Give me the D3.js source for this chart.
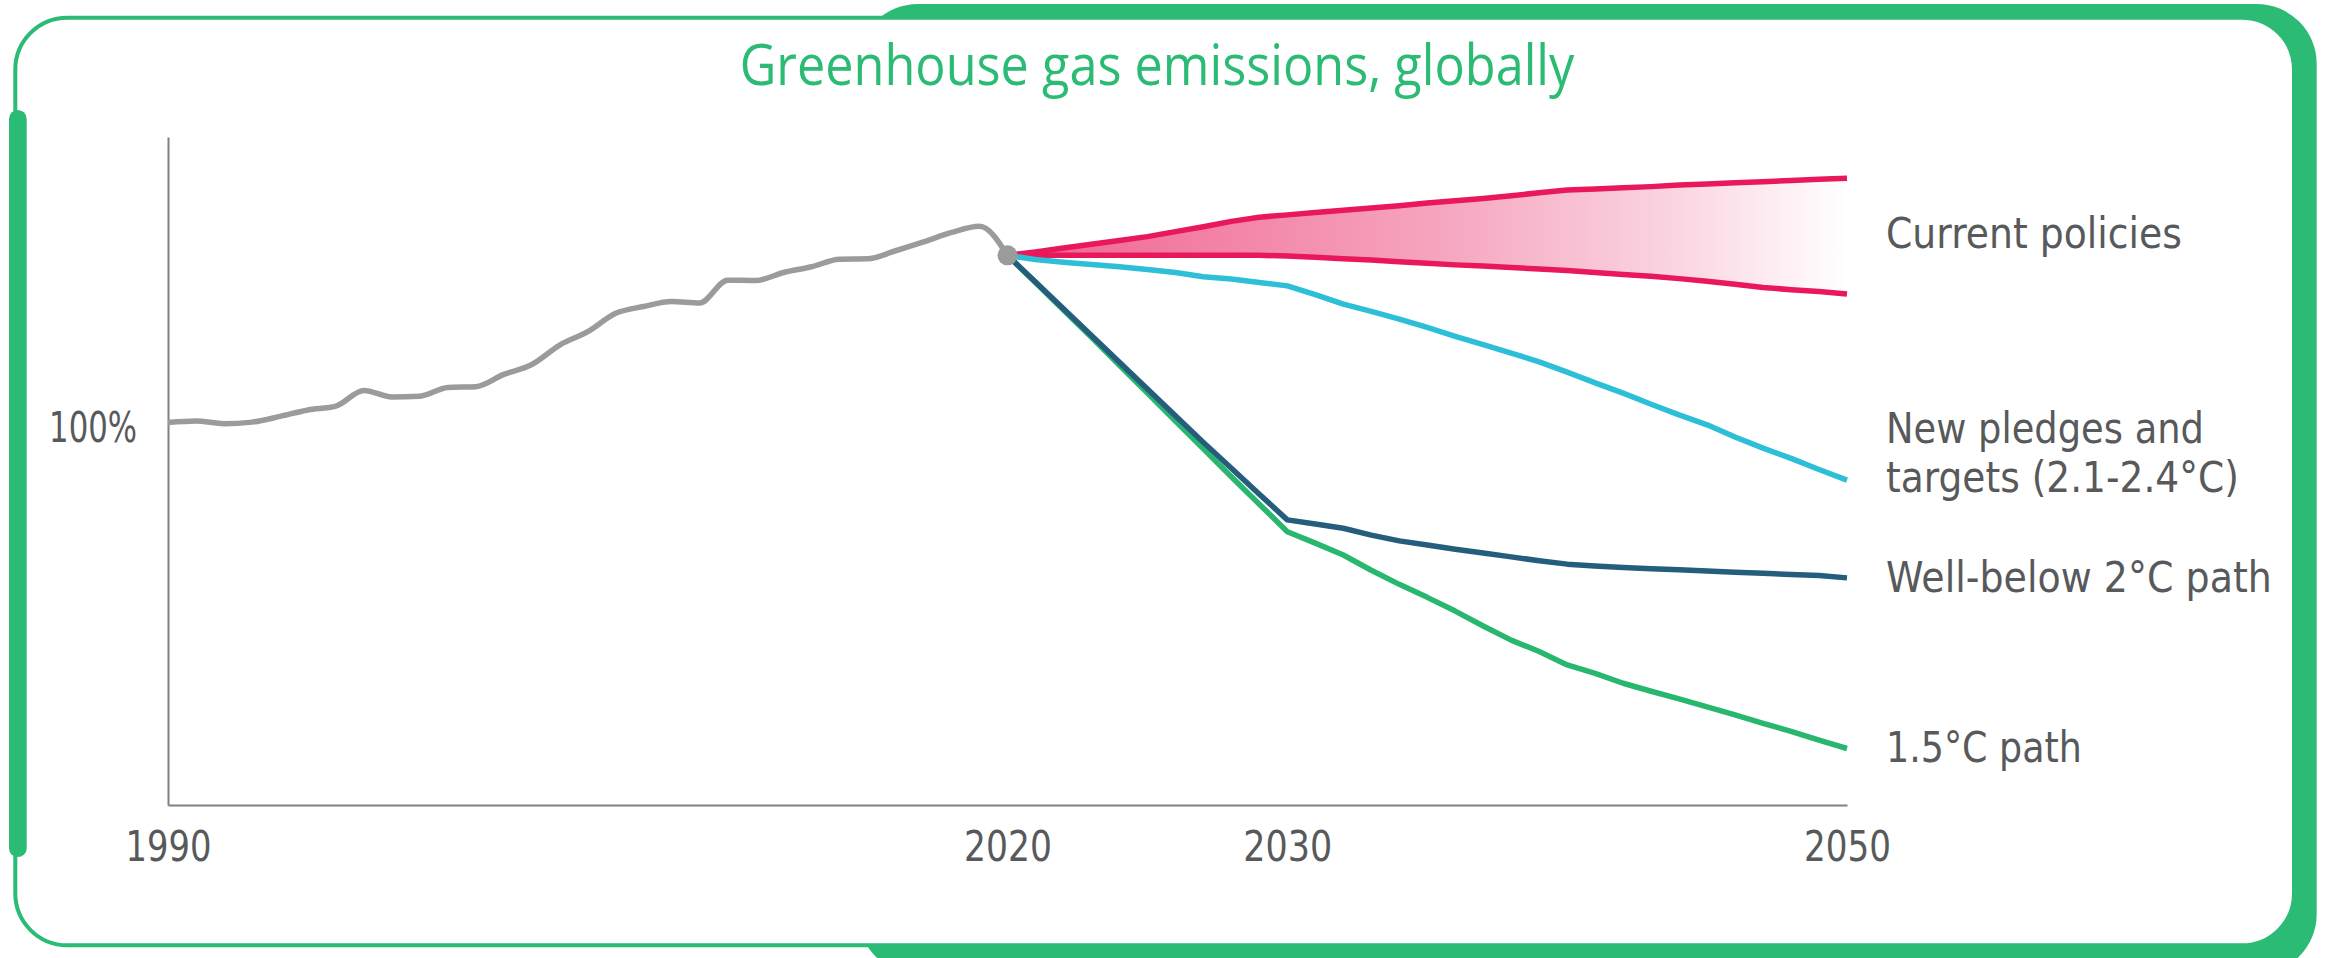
<!DOCTYPE html>
<html>
<head>
<meta charset="utf-8">
<script src="https://cdn.jsdelivr.net/npm/d3@7"></script>
<style>
  html, body { margin: 0; padding: 0; background: #ffffff; }
  svg { display: block; }
</style>
</head>
<body>
<svg id="chart" width="2333" height="958"></svg>
<script>
// ---- Data (emissions indexed to 1990 = 100%) ----
const titleText = "Greenhouse gas emissions, globally";
const xTickYears = [1990, 2020, 2030, 2050];
const yTickValues = [100];

const histYears = [1990, 1991, 1992, 1993, 1994, 1995, 1996, 1997, 1998, 1999,
                   2000, 2001, 2002, 2003, 2004, 2005, 2006, 2007, 2008, 2009,
                   2010, 2011, 2012, 2013, 2014, 2015, 2016, 2017, 2018, 2019, 2020];
const histValues = [100.2, 100.6, 99.9, 100.3, 101.8, 103.5, 104.5, 108.6, 106.9, 107.1,
                    109.4, 109.6, 112.8, 115.4, 120.5, 124.0, 128.8, 130.6, 131.9, 131.5,
                    137.5, 137.4, 139.5, 141.0, 143.0, 143.1, 145.2, 147.5, 150.0, 151.6, 144.0];

const projYears = [2020, 2021, 2022, 2023, 2024, 2025, 2026, 2027, 2028, 2029,
                   2030, 2031, 2032, 2033, 2034, 2035, 2036, 2037, 2038, 2039,
                   2040, 2041, 2042, 2043, 2044, 2045, 2046, 2047, 2048, 2049, 2050];
const currentPoliciesHigh = [144.0, 144.9, 145.9, 146.9, 147.9, 148.9, 150.2, 151.5, 152.9, 154.0,
                             154.6, 155.2, 155.8, 156.4, 157.0, 157.7, 158.3, 158.9, 159.6, 160.4,
                             161.1, 161.4, 161.7, 162.0, 162.4, 162.7, 163.0, 163.3, 163.6, 163.9, 164.2];
const currentPoliciesLow = [144.0, 144.0, 144.0, 144.0, 144.0, 144.0, 144.0, 144.0, 144.0, 144.0,
                            143.8, 143.5, 143.1, 142.8, 142.3, 141.9, 141.5, 141.2, 140.8, 140.4,
                            140.0, 139.5, 139.0, 138.5, 137.9, 137.2, 136.4, 135.6, 135.0, 134.5, 133.9];
const newPledges = [144.0, 142.9, 142.2, 141.6, 141.0, 140.3, 139.5, 138.4, 137.8, 136.9,
                    136.0, 133.7, 131.2, 129.3, 127.3, 125.1, 122.8, 120.6, 118.4, 116.1,
                    113.4, 110.6, 107.9, 105.0, 102.2, 99.6, 96.4, 93.5, 90.8, 87.9, 85.1];
const wellBelow2 = [144.0, 137.0, 130.0, 123.0, 116.0, 109.0, 102.0, 95.0, 88.2, 81.4,
                    74.7, 73.6, 72.5, 70.7, 69.2, 68.1, 67.0, 66.0, 65.0, 64.0,
                    63.1, 62.6, 62.2, 61.9, 61.6, 61.3, 61.0, 60.7, 60.4, 60.1, 59.5];
const path15 = [144.0, 136.9, 129.7, 122.5, 115.2, 107.9, 100.6, 93.3, 86.0, 78.8,
                71.6, 68.6, 65.5, 61.5, 57.8, 54.4, 50.8, 46.9, 43.2, 40.2,
                36.7, 34.5, 31.9, 29.8, 27.8, 25.7, 23.6, 21.4, 19.3, 17.0, 14.8];

const seriesLabelLines = [
  ["Current policies"],
  ["New pledges and", "targets (2.1-2.4°C)"],
  ["Well-below 2°C path"],
  ["1.5°C path"]
];

// ---- Layout & style ----
const W = 2333, H = 958;
const plot = { left: 168, right: 1847, top: 137, bottom: 805 };
const GREEN_FRAME = "#2bbb74";
const TEXT_GRAY = "#58595b";
const AXIS_GRAY = "#808080";
const LABEL_FONT = "'DejaVu Sans', Verdana, sans-serif";
const TITLE_FONT = "'Open Sans', 'Noto Sans', sans-serif";
const LINE_W = 5.5;
const colors = {
  hist: "#9b9b9b",
  current: "#e8185b",
  pledges: "#2ebfd8",
  well: "#255d7d",
  p15: "#29b76f"
};
// label baselines and rendered widths (per line)
const labelLayout = [
  { x: 1886, ys: [248], widths: [296] },
  { x: 1886, ys: [443, 492], widths: [318, 353] },
  { x: 1886, ys: [592], widths: [386] },
  { x: 1886, ys: [762], widths: [196] }
];

const svg = d3.select("#chart").attr("viewBox", `0 0 ${W} ${H}`);

// ---- Frame: green back panel, white card with thin border, left accent bar ----
svg.append("rect")
  .attr("x", 858).attr("y", 4)
  .attr("width", 2316.7 - 858).attr("height", 974 - 4)
  .attr("rx", 60).attr("ry", 60)
  .attr("fill", GREEN_FRAME);
svg.append("rect")
  .attr("x", 15.3).attr("y", 17.7)
  .attr("width", 2294 - 15.3).attr("height", 945.3 - 17.7)
  .attr("rx", 52).attr("ry", 52)
  .attr("fill", "#ffffff")
  .attr("stroke", GREEN_FRAME).attr("stroke-width", 4);
svg.append("rect")
  .attr("x", 9).attr("y", 110)
  .attr("width", 17.7).attr("height", 857 - 110)
  .attr("rx", 8.85).attr("ry", 8.85)
  .attr("fill", GREEN_FRAME);

// Squeeze a text element horizontally so it spans the given width
function fitWidth(textSel, width, extra) {
  const n = textSel.node().getComputedTextLength();
  const s = width / n;
  textSel.attr("transform", `${extra || ""} scale(${s},1)`);
}

// ---- Title ----
const titleG = svg.append("g").attr("transform", `translate(1157,85)`);
const titleT = titleG.append("text")
  .text(titleText)
  .attr("text-anchor", "middle")
  .attr("font-family", TITLE_FONT)
  .attr("font-size", 56)
  .attr("fill", GREEN_FRAME);
fitWidth(titleT, 835);

// ---- Scales ----
const x = d3.scaleLinear().domain([1990, 2050]).range([plot.left, plot.right]);
const y = d3.scaleLinear().domain([0, 175]).range([plot.bottom, plot.top]);

// ---- Axes ----
const xAxisG = svg.append("g")
  .attr("transform", `translate(0,${plot.bottom})`)
  .call(d3.axisBottom(x).tickValues(xTickYears).tickFormat(d3.format("d"))
        .tickSizeInner(0).tickSizeOuter(0));
const yAxisG = svg.append("g")
  .attr("transform", `translate(${plot.left},0)`)
  .call(d3.axisLeft(y).tickValues(yTickValues).tickFormat(d => d + "%")
        .tickSizeInner(0).tickSizeOuter(0));

[xAxisG, yAxisG].forEach(g => {
  g.select(".domain").attr("stroke", AXIS_GRAY).attr("stroke-width", 2);
  g.selectAll(".tick line").remove();
  g.selectAll(".tick text")
    .attr("font-family", LABEL_FONT)
    .attr("font-size", 42)
    .attr("fill", TEXT_GRAY)
    .attr("dy", null);
});
const xTickWidths = { 1990: 86, 2020: 88, 2030: 89, 2050: 87 };
xAxisG.selectAll(".tick text").each(function (d) {
  const t = d3.select(this).attr("x", 0).attr("y", 56).attr("text-anchor", "middle");
  fitWidth(t, xTickWidths[d]);
});
yAxisG.selectAll(".tick text").each(function () {
  const t = d3.select(this).attr("x", 0).attr("y", 17.7).attr("text-anchor", "end");
  fitWidth(t, 88, "translate(-31,0)");
});

// ---- Current policies band with fading gradient ----
const defs = svg.append("defs");
const grad = defs.append("linearGradient")
  .attr("id", "currentBand")
  .attr("gradientUnits", "userSpaceOnUse")
  .attr("x1", x(2020)).attr("x2", x(2050))
  .attr("y1", 0).attr("y2", 0);
[[0, 0.68], [0.5, 0.4], [0.8, 0.18], [1, 0]].forEach(([o, a]) => {
  grad.append("stop").attr("offset", o).attr("stop-color", colors.current).attr("stop-opacity", a);
});

const bandData = projYears.map((yr, i) => ({ yr, lo: currentPoliciesLow[i], hi: currentPoliciesHigh[i] }));
svg.append("path")
  .datum(bandData)
  .attr("fill", "url(#currentBand)")
  .attr("d", d3.area().x(d => x(d.yr)).y0(d => y(d.lo)).y1(d => y(d.hi)));

// ---- Lines ----
const histLine = d3.line().x(d => x(d[0])).y(d => y(d[1])).curve(d3.curveMonotoneX);
const projLine = d3.line().x(d => x(d[0])).y(d => y(d[1]));

svg.append("path")
  .datum(histYears.map((yr, i) => [yr, histValues[i]]))
  .attr("fill", "none")
  .attr("stroke", colors.hist)
  .attr("stroke-width", LINE_W)
  .attr("stroke-linejoin", "round")
  .attr("d", histLine);

const projSeries = [
  { values: currentPoliciesLow, color: colors.current },
  { values: currentPoliciesHigh, color: colors.current },
  { values: newPledges, color: colors.pledges },
  { values: path15, color: colors.p15 },
  { values: wellBelow2, color: colors.well }
];
projSeries.forEach(s => {
  svg.append("path")
    .datum(projYears.map((yr, i) => [yr, s.values[i]]))
    .attr("fill", "none")
    .attr("stroke", s.color)
    .attr("stroke-width", LINE_W)
    .attr("stroke-linejoin", "round")
    .attr("d", projLine);
});

// 2020 marker where history meets the scenarios
svg.append("circle")
  .attr("cx", x(histYears[histYears.length - 1]))
  .attr("cy", y(histValues[histValues.length - 1]))
  .attr("r", 10)
  .attr("fill", colors.hist);

// ---- Scenario labels ----
seriesLabelLines.forEach((lines, i) => {
  const lay = labelLayout[i];
  lines.forEach((line, j) => {
    const g = svg.append("g").attr("transform", `translate(${lay.x},${lay.ys[j]})`);
    const t = g.append("text")
      .text(line)
      .attr("font-family", LABEL_FONT)
      .attr("font-size", 42)
      .attr("fill", TEXT_GRAY);
    fitWidth(t, lay.widths[j]);
  });
});
</script>
</body>
</html>
